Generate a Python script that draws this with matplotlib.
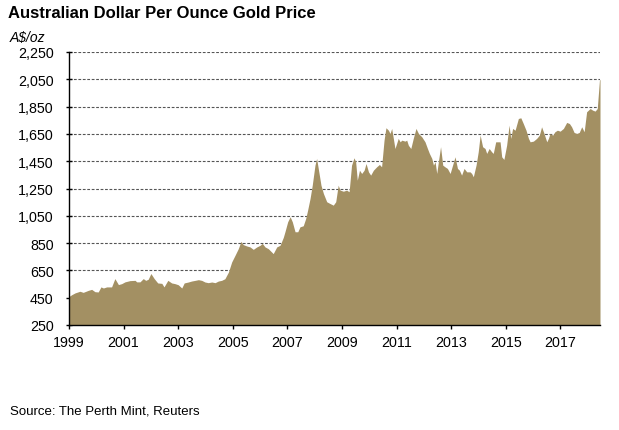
import matplotlib
matplotlib.use("Agg")
import matplotlib.pyplot as plt
import numpy as np

plt.rcParams['font.family'] = ['Liberation Sans', 'DejaVu Sans']

# decimal year, A$ per ounce
years = [
    1999.00, 1999.10, 1999.22, 1999.40, 1999.52, 1999.71, 1999.83, 1999.95,
    2000.07, 2000.17, 2000.26, 2000.38, 2000.56, 2000.68, 2000.81, 2000.93,
    2001.05, 2001.23, 2001.42, 2001.48, 2001.60, 2001.72, 2001.81, 2001.90,
    2002.00, 2002.12, 2002.25, 2002.40, 2002.48, 2002.62, 2002.76, 2002.88,
    2003.00, 2003.13, 2003.22, 2003.37, 2003.49, 2003.62, 2003.74, 2003.86,
    2003.98, 2004.10, 2004.23, 2004.35, 2004.47, 2004.59, 2004.71, 2004.84,
    2004.96, 2005.08, 2005.20, 2005.30, 2005.38, 2005.51, 2005.63, 2005.75,
    2005.88, 2006.00, 2006.08, 2006.18, 2006.30, 2006.42, 2006.48, 2006.61,
    2006.73, 2006.85, 2006.91, 2007.01, 2007.10, 2007.18, 2007.28, 2007.38,
    2007.46, 2007.58, 2007.67, 2007.74, 2007.83, 2007.91, 2008.01, 2008.07,
    2008.13, 2008.23, 2008.32, 2008.44, 2008.56, 2008.68, 2008.77, 2008.86,
    2008.93, 2009.05, 2009.17, 2009.26, 2009.35, 2009.44, 2009.50, 2009.56,
    2009.64, 2009.72, 2009.81, 2009.88, 2009.97, 2010.05, 2010.15, 2010.27,
    2010.37, 2010.45, 2010.54, 2010.61, 2010.70, 2010.76, 2010.82, 2010.88,
    2010.94, 2011.00, 2011.06, 2011.13, 2011.19, 2011.31, 2011.37, 2011.43,
    2011.52, 2011.61, 2011.71, 2011.80, 2011.92, 2012.04, 2012.13, 2012.20,
    2012.29, 2012.35, 2012.41, 2012.47, 2012.53, 2012.61, 2012.69, 2012.77,
    2012.86, 2012.96, 2013.05, 2013.14, 2013.23, 2013.30, 2013.38, 2013.47,
    2013.57, 2013.69, 2013.75, 2013.81, 2013.91, 2013.99, 2014.06, 2014.15,
    2014.24, 2014.30, 2014.39, 2014.48, 2014.54, 2014.63, 2014.73, 2014.79,
    2014.85, 2014.93, 2015.03, 2015.12, 2015.18, 2015.25, 2015.34, 2015.46,
    2015.55, 2015.64, 2015.74, 2015.83, 2015.89, 2016.01, 2016.13, 2016.23,
    2016.31, 2016.40, 2016.50, 2016.56, 2016.62, 2016.72, 2016.80, 2016.89,
    2016.99, 2017.11, 2017.23, 2017.33, 2017.41, 2017.50, 2017.60, 2017.69,
    2017.78, 2017.87, 2017.96, 2018.09, 2018.18, 2018.27, 2018.35, 2018.43,
    2018.45,
]
price = [
    459, 472, 485, 497, 489, 504, 511, 494,
    492, 529, 521, 529, 529, 590, 546, 553,
    566, 575, 577, 566, 566, 590, 577, 585,
    627, 590, 558, 555, 529, 577, 558, 553,
    545, 521, 558, 565, 572, 577, 582, 577,
    565, 560, 565, 560, 572, 577, 589, 638,
    712, 760, 809, 863, 839, 829, 822, 804,
    822, 834, 848, 822, 809, 785, 773, 822,
    834, 892, 933, 1006, 1043, 1006, 933, 933,
    969, 977, 1030, 1091, 1177, 1274, 1421, 1470,
    1397, 1274, 1213, 1153, 1140, 1128, 1153, 1274,
    1238, 1230, 1238, 1226, 1421, 1475, 1446, 1311,
    1384, 1360, 1384, 1433, 1372, 1348, 1384, 1409,
    1426, 1409, 1604, 1695, 1677, 1653, 1690, 1617,
    1543, 1580, 1617, 1592, 1604, 1597, 1604, 1567,
    1543, 1617, 1690, 1653, 1629, 1592, 1543, 1507,
    1470, 1421, 1446, 1360, 1446, 1556, 1421, 1409,
    1397, 1360, 1421, 1482, 1397, 1384, 1348, 1397,
    1372, 1372, 1360, 1336, 1421, 1519, 1641, 1556,
    1543, 1507, 1543, 1519, 1507, 1592, 1592, 1592,
    1482, 1463, 1567, 1714, 1617, 1690, 1677, 1763,
    1768, 1726, 1677, 1617, 1592, 1597, 1617, 1641,
    1702, 1653, 1592, 1617, 1653, 1641, 1666, 1677,
    1670, 1690, 1734, 1726, 1702, 1661, 1653, 1661,
    1702, 1666, 1812, 1836, 1824, 1817, 1836, 2044,
    2050,
]

yticks = np.arange(250, 2251, 200)
xticks = np.arange(1999, 2018, 2)

fig = plt.figure(figsize=(6.19, 4.31), dpi=100)
ax = fig.add_axes([69/619, 105/431, 531/619, 273/431])

ax.fill_between(years, price, 250, color='#a39063', lw=0)

ax.set_xlim(1999, 2018.45)
ax.set_ylim(250, 2250)
ax.set_yticks(yticks)
ax.set_yticklabels([f"{v:,}" for v in yticks])
ax.set_xticks(xticks)
ax.set_xticklabels([str(x) for x in xticks])

ax.set_axisbelow(True)
ax.yaxis.grid(True, color='#555555', lw=0.8, ls=(0, (2.5, 1.5)))
for s in ['top', 'right']:
    ax.spines[s].set_visible(False)
for s in ['left', 'bottom']:
    ax.spines[s].set_color('black')
    ax.spines[s].set_linewidth(1.0)

ax.tick_params(axis='y', direction='inout', length=5, width=1, pad=8.6,
               labelsize=10.3, colors='black')
ax.tick_params(axis='x', length=3, width=1, pad=4, labelsize=10.3, colors='black')

fig.text(8/619, 1 - 13/431, "Australian Dollar Per Ounce Gold Price",
         fontsize=12, fontweight='bold', va='center', ha='left')
fig.text(10/619, 1 - 38/431, "A$/oz", fontsize=10, style='italic',
         va='center', ha='left')
fig.text(10/619, 1 - 412/431, "Source: The Perth Mint, Reuters",
         fontsize=9.5, va='center', ha='left')

fig.savefig("out.png", dpi=100)
